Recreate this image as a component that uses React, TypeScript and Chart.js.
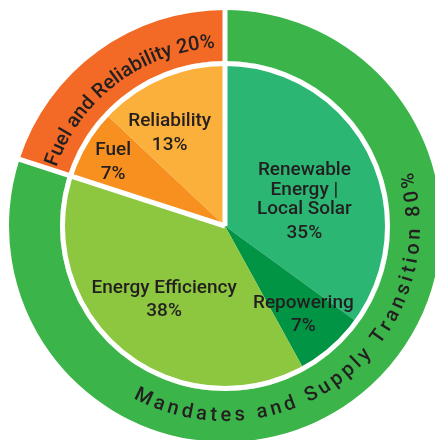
import React, { useEffect, useRef } from 'react';
import { Chart, registerables } from 'chart.js';

Chart.register(...registerables);

// ---- data ----
const outerLabels = ['Mandates and Supply Transition', 'Fuel and Reliability'];
const outerValues = [80, 20];
const outerColors = ['#3BB54A', '#F26A25'];

const innerLabels = [
  ['Renewable', 'Energy |', 'Local Solar'],
  ['Repowering'],
  ['Energy Efficiency'],
  ['Fuel'],
  ['Reliability'],
];
const innerValues = [35, 7, 38, 7, 13];
const innerColors = ['#2BB673', '#009444', '#8DC63F', '#F7901E', '#FBB03B'];

// ---- label styling / placement (relative to the arcs computed by Chart.js) ----
const innerLabelRadius = [0.503, 0.718, 0.579, 0.78, 0.655];
const innerLabelAngleShift = [10, 0, 0, -1, -7.4];
const outerTextRadius = [0.588, 0.265]; // fraction of ring thickness from its inner edge
const outerTextClockwise = [false, true];
const outerTextSpacing = [3.8, 0];
const outerTextAngleShift = [-3, -1];

const TEXT_COLOR = '#231F20';
const FONT = 'Roboto, "Noto Sans", sans-serif';
const GAP = 5;

function drawArcText(
  ctx: CanvasRenderingContext2D,
  text: string,
  cx: number,
  cy: number,
  r: number,
  midAngle: number,
  spacing: number,
  clockwise: boolean
) {
  const chars = Array.from(text);
  const widths = chars.map((ch) => ctx.measureText(ch).width);
  const total = widths.reduce((a, b) => a + b, 0) + spacing * (chars.length - 1);
  const dir = clockwise ? 1 : -1;
  const start = midAngle - (dir * total) / (2 * r);
  let offset = 0;
  chars.forEach((ch, i) => {
    const theta = start + (dir * (offset + widths[i] / 2)) / r;
    ctx.save();
    ctx.translate(cx + r * Math.cos(theta), cy + r * Math.sin(theta));
    ctx.rotate(clockwise ? theta + Math.PI / 2 : theta - Math.PI / 2);
    ctx.fillText(ch, 0, 0);
    ctx.restore();
    offset += widths[i] + spacing;
  });
}

const overlayPlugin = {
  id: 'overlay',
  afterDatasetsDraw(chart: any) {
    const ctx: CanvasRenderingContext2D = chart.ctx;
    const outerMeta = chart.getDatasetMeta(0);
    const innerMeta = chart.getDatasetMeta(1);
    const first = outerMeta.data[0] as any;
    const cx = first.x;
    const cy = first.y;
    const R = first.outerRadius;
    const ringInner = first.innerRadius;

    ctx.save();
    // white gap between ring and pie
    ctx.strokeStyle = '#ffffff';
    ctx.lineWidth = GAP;
    ctx.beginPath();
    ctx.arc(cx, cy, ringInner - GAP / 2, 0, Math.PI * 2);
    ctx.stroke();
    // white separators at group boundaries
    outerMeta.data.forEach((arc: any) => {
      const a = arc.startAngle;
      ctx.beginPath();
      ctx.moveTo(cx, cy);
      ctx.lineTo(cx + (R + 4) * Math.cos(a), cy + (R + 4) * Math.sin(a));
      ctx.stroke();
    });

    // inner labels
    ctx.fillStyle = TEXT_COLOR;
    ctx.font = `500 19px ${FONT}`;
    ctx.textAlign = 'center';
    ctx.textBaseline = 'middle';
    innerMeta.data.forEach((arc: any, i: number) => {
      const mid = (arc.startAngle + arc.endAngle) / 2 + (innerLabelAngleShift[i] * Math.PI) / 180;
      const r = innerLabelRadius[i] * arc.outerRadius;
      const x = cx + r * Math.cos(mid);
      const y = cy + r * Math.sin(mid);
      const lines = innerLabels[i];
      const lh = 19.5;
      const ph = 23.5;
      const blockH = (lines.length - 1) * lh + ph;
      let yy = y - blockH / 2;
      lines.forEach((ln) => {
        ctx.fillText(ln, x, yy);
        yy += lh;
      });
      yy += ph - lh;
      ctx.fillText(`${innerValues[i]}%`, x, yy);
    });

    // curved outer labels
    ctx.font = `500 20px ${FONT}`;
    ctx.textBaseline = 'alphabetic';
    outerMeta.data.forEach((arc: any, i: number) => {
      const mid = (arc.startAngle + arc.endAngle) / 2 + (outerTextAngleShift[i] * Math.PI) / 180;
      const r = arc.innerRadius + outerTextRadius[i] * (arc.outerRadius - arc.innerRadius);
      drawArcText(
        ctx,
        `${outerLabels[i]} ${outerValues[i]}%`,
        cx,
        cy,
        r,
        mid,
        outerTextSpacing[i],
        outerTextClockwise[i]
      );
    });
    ctx.restore();
  },
};

export default function App() {
  const ref = useRef<HTMLCanvasElement>(null);
  useEffect(() => {
    if (!ref.current) return;
    const chart = new Chart(ref.current, {
      type: 'doughnut',
      data: {
        labels: innerLabels.map((l) => l.join(' ')),
        datasets: [
          {
            data: outerValues,
            backgroundColor: outerColors,
            borderWidth: 0,
            hoverBorderWidth: 0,
            hoverOffset: 0,
            weight: 51,
          } as any,
          {
            data: innerValues,
            backgroundColor: innerColors,
            borderWidth: 0,
            hoverBorderWidth: 0,
            hoverOffset: 0,
            weight: 165,
          } as any,
        ],
      },
      options: {
        responsive: false,
        animation: false,
        cutout: 0,
        events: [],
        layout: { padding: 9 },
        plugins: {
          legend: { display: false },
          tooltip: { enabled: false },
        },
      } as any,
      plugins: [overlayPlugin],
    });
    return () => chart.destroy();
  }, []);

  return (
    <div
      style={{
        position: 'fixed',
        left: 0,
        top: 0,
        width: 435,
        height: 440,
        overflow: 'hidden',
        background: '#ffffff',
      }}
    >
      <canvas ref={ref} width={450} height={452} style={{ display: 'block', width: 450, height: 452 }} />
    </div>
  );
}
